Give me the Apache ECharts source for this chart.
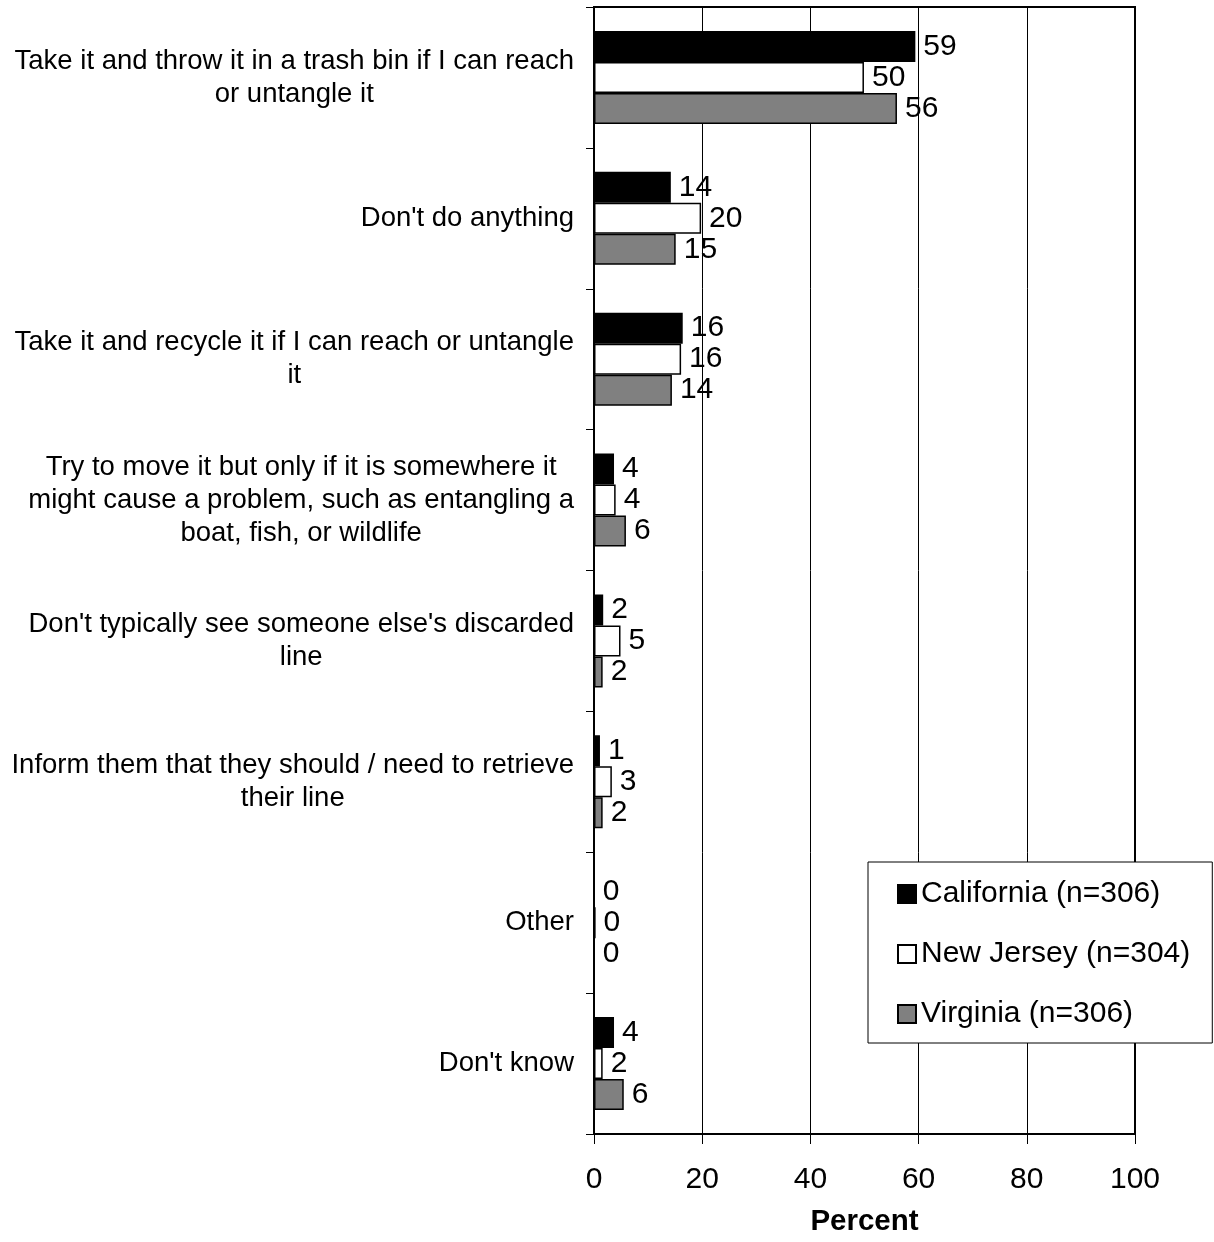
<!DOCTYPE html>
<html>
<head>
<meta charset="utf-8">
<script src="https://cdn.jsdelivr.net/npm/echarts@6/dist/echarts.min.js"></script>
<style>html,body{margin:0;padding:0;background:#fff;}#c{width:1214px;height:1242px;}</style>
</head>
<body>
<div id="c"></div>
<script>
const categories = [
  "Take it and throw it in a trash bin if I can reach\nor untangle it",
  "Don't do anything",
  "Take it and recycle it if I can reach or untangle\nit",
  "Try to move it but only if it is somewhere it\nmight cause a problem, such as entangling a\nboat, fish, or wildlife",
  "Don't typically see someone else's discarded\nline",
  "Inform them that they should / need to retrieve\ntheir line",
  "Other",
  "Don't know"
];
const california = [59.4, 14.2, 16.4, 3.7, 1.7, 1.1, 0, 3.7];
const newJersey  = [49.9, 19.8, 16.1, 4.0, 4.9, 3.3, 0.3, 1.6];
const virginia   = [56.0, 15.1, 14.4, 5.9, 1.6, 1.6, 0, 5.5];
const seriesNames = ["California (n=306)", "New Jersey (n=304)", "Virginia (n=306)"];
const xTicks = [0, 20, 40, 60, 80, 100];

const FONT = "'Liberation Sans', Arial, sans-serif";
const chart = echarts.init(document.getElementById('c'), null, {renderer: 'canvas'});

function mkSeries(name, data, color) {
  return {
    name: name,
    type: 'bar',
    data: data,
    barWidth: 31,
    barGap: '0%',
    itemStyle: {color: color, borderColor: '#000', borderWidth: 1.5},
    label: {
      show: true, position: 'right', distance: 8,
      color: '#000', fontFamily: FONT, fontSize: 30,
      formatter: p => String(Math.round(p.value))
    },
    emphasis: {disabled: true}
  };
}

chart.setOption({
  animation: false,
  backgroundColor: '#fff',
  textStyle: {fontFamily: FONT},
  grid: {left: 594, right: 79, top: 7, bottom: 107, show: true, borderColor: '#000', borderWidth: 2, backgroundColor: 'transparent'},
  legend: {
    orient: 'vertical', left: 868, top: 862,
    padding: [17, 22, 14, 29], itemGap: 30,
    itemWidth: 18, itemHeight: 18, icon: 'rect',
    backgroundColor: '#fff', borderColor: '#000', borderWidth: 1,
    textStyle: {fontFamily: FONT, fontSize: 30, color: '#000'},
    data: seriesNames
  },
  xAxis: {
    type: 'value', min: xTicks[0], max: xTicks[xTicks.length - 1], interval: 20,
    name: 'Percent', nameLocation: 'middle', nameGap: 73,
    nameTextStyle: {fontFamily: FONT, fontSize: 29.5, fontWeight: 'bold', color: '#000'},
    axisLine: {show: true, lineStyle: {color: '#000', width: 2}},
    axisTick: {show: true, length: 10, lineStyle: {color: '#000', width: 1}},
    axisLabel: {margin: 31, fontFamily: FONT, fontSize: 30, color: '#000'},
    splitLine: {show: true, lineStyle: {color: '#000', width: 1}}
  },
  yAxis: {
    type: 'category', data: categories, inverse: true,
    axisLine: {show: true, lineStyle: {color: '#000', width: 2}},
    axisTick: {show: true, length: 8, lineStyle: {color: '#000', width: 1}},
    axisLabel: {
      margin: 20, fontFamily: FONT, fontSize: 27.5, color: '#000', lineHeight: 33,
      formatter: v => v.split('\n').map(l => '{c|' + l + '}').join('\n'),
      rich: {c: {align: 'center', fontFamily: FONT, fontSize: 27.5, color: '#000', lineHeight: 33}}
    }
  },
  series: [
    mkSeries(seriesNames[0], california, '#000000'),
    mkSeries(seriesNames[1], newJersey, '#ffffff'),
    mkSeries(seriesNames[2], virginia, '#808080')
  ]
});
</script>
</body>
</html>
